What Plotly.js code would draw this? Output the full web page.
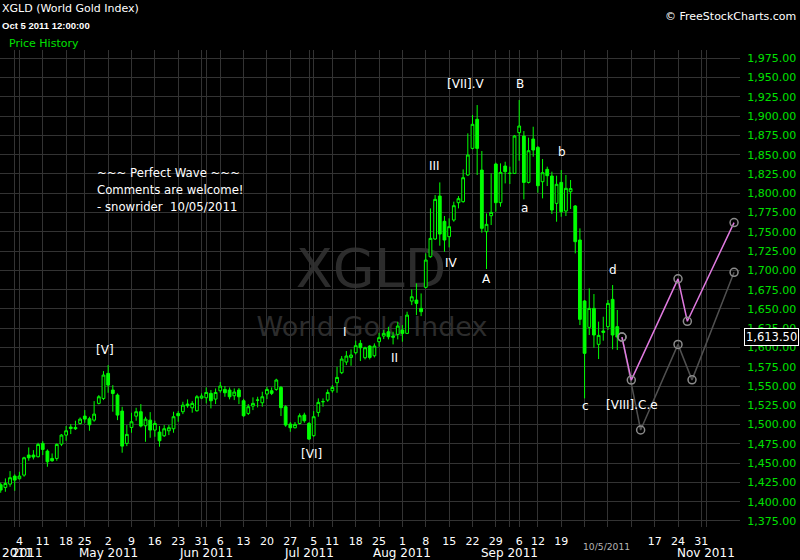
<!DOCTYPE html>
<html>
<head>
<meta charset="utf-8">
<script src="https://cdn.plot.ly/plotly-3.0.1.min.js"></script>
<style>
html,body{margin:0;padding:0;background:#000;}
#chart{width:800px;height:560px;}
</style>
</head>
<body>
<div id="chart"></div>
<script>
// XGLD (World Gold Index) daily bars, 29 Mar – 5 Oct 2011
const dates = [
  "2011-03-29","2011-03-30","2011-03-31","2011-04-01",
  "2011-04-04","2011-04-05","2011-04-06","2011-04-07","2011-04-08",
  "2011-04-11","2011-04-12","2011-04-13","2011-04-14","2011-04-15",
  "2011-04-18","2011-04-19","2011-04-20","2011-04-21",
  "2011-04-25","2011-04-26","2011-04-27","2011-04-28","2011-04-29",
  "2011-05-02","2011-05-03","2011-05-04","2011-05-05","2011-05-06",
  "2011-05-09","2011-05-10","2011-05-11","2011-05-12","2011-05-13",
  "2011-05-16","2011-05-17","2011-05-18","2011-05-19","2011-05-20",
  "2011-05-23","2011-05-24","2011-05-25","2011-05-26","2011-05-27",
  "2011-05-31","2011-06-01","2011-06-02","2011-06-03",
  "2011-06-06","2011-06-07","2011-06-08","2011-06-09","2011-06-10",
  "2011-06-13","2011-06-14","2011-06-15","2011-06-16","2011-06-17",
  "2011-06-20","2011-06-21","2011-06-22","2011-06-23","2011-06-24",
  "2011-06-27","2011-06-28","2011-06-29","2011-06-30","2011-07-01",
  "2011-07-05","2011-07-06","2011-07-07","2011-07-08",
  "2011-07-11","2011-07-12","2011-07-13","2011-07-14","2011-07-15",
  "2011-07-18","2011-07-19","2011-07-20","2011-07-21","2011-07-22",
  "2011-07-25","2011-07-26","2011-07-27","2011-07-28","2011-07-29",
  "2011-08-01","2011-08-02","2011-08-03","2011-08-04","2011-08-05",
  "2011-08-08","2011-08-09","2011-08-10","2011-08-11","2011-08-12",
  "2011-08-15","2011-08-16","2011-08-17","2011-08-18","2011-08-19",
  "2011-08-22","2011-08-23","2011-08-24","2011-08-25","2011-08-26",
  "2011-08-29","2011-08-30","2011-08-31","2011-09-01","2011-09-02",
  "2011-09-06","2011-09-07","2011-09-08","2011-09-09",
  "2011-09-12","2011-09-13","2011-09-14","2011-09-15","2011-09-16",
  "2011-09-19","2011-09-20","2011-09-21","2011-09-22","2011-09-23",
  "2011-09-26","2011-09-27","2011-09-28","2011-09-29","2011-09-30",
  "2011-10-03","2011-10-04","2011-10-05"
];
const open = [
  1422.0,1418.5,1422.8,1433.2,
  1429.8,1434.5,1460.5,1460.5,1458.3,
  1475.6,1465.6,1456.1,1456.1,1474.7,
  1486.4,1496.8,1496.3,1501.5,
  1511.0,1507.6,1505.8,1527.5,1533.9,
  1566.4,1544.8,1538.3,1517.5,1475.6,
  1496.3,1511.0,1516.7,1498.5,1505.8,
  1492.9,1490.3,1485.5,1492.0,1494.6,
  1514.5,1516.7,1526.6,1521.8,1518.0,
  1534.4,1534.8,1540.5,1533.1,
  1543.9,1545.6,1544.8,1537.4,1544.8,
  1530.9,1514.5,1524.0,1531.6,1528.3,
  1539.6,1543.9,1545.6,1548.2,1523.2,
  1500.7,1495.9,1501.5,1512.4,1501.5,
  1485.6,1515.8,1529.6,1531.8,
  1543.9,1554.3,1567.3,1581.1,1587.1,
  1593.2,1605.3,1586.7,1601.8,1589.3,
  1607.5,1614.8,1620.4,1613.1,1617.0,
  1622.6,1618.3,1660.2,1661.5,1650.7,
  1678.0,1717.7,1740.7,1796.4,1763.6,
  1743.7,1765.3,1787.8,1789.1,1823.7,
  1858.2,1895.9,1830.1,1750.2,1770.9,
  1837.9,1787.8,1835.3,1825.8,1825.8,
  1878.6,1874.2,1814.1,1870.3,
  1859.5,1815.0,1831.0,1822.4,1786.9,
  1814.1,1777.0,1802.0,1783.5,1739.4,
  1660.3,1626.1,1650.7,1604.1,1621.4,
  1627.0,1662.4,1627.0
];
const high = [
  1424.6,1430.2,1439.7,1435.4,
  1438.8,1458.3,1470.4,1466.9,1476.4,
  1478.6,1467.8,1462.6,1475.6,1487.7,
  1498.1,1500.7,1505.0,1509.3,
  1518.8,1510.2,1530.5,1538.3,1569.4,
  1577.2,1551.2,1540.4,1523.1,1499.4,
  1515.4,1521.8,1526.6,1510.2,1516.2,
  1505.0,1498.1,1499.4,1499.4,1516.7,
  1517.5,1529.6,1532.7,1530.5,1538.3,
  1540.5,1548.2,1544.8,1546.9,
  1555.2,1550.0,1548.2,1546.9,1547.4,
  1533.5,1526.6,1535.3,1536.1,1542.6,
  1549.1,1548.2,1559.5,1550.0,1525.3,
  1503.3,1503.3,1514.5,1515.4,1503.3,
  1517.5,1534.0,1534.0,1545.6,
  1551.3,1575.0,1588.9,1595.4,1597.5,
  1608.8,1609.6,1601.0,1603.1,1605.3,
  1619.1,1622.6,1626.9,1620.4,1633.4,
  1629.1,1646.4,1675.3,1683.1,1670.1,
  1722.1,1780.4,1797.7,1814.1,1770.5,
  1767.5,1789.1,1796.4,1831.0,1877.7,
  1901.5,1914.4,1854.8,1773.9,1825.8,
  1839.7,1838.8,1840.9,1834.5,1875.5,
  1920.9,1880.7,1872.1,1886.3,
  1861.3,1844.4,1834.5,1828.0,1822.8,
  1830.1,1823.7,1817.2,1784.7,1754.5,
  1661.6,1676.7,1669.3,1633.5,1639.9,
  1661.6,1681.0,1648.6
];
const low = [
  1411.6,1412.9,1419.4,1414.2,
  1428.9,1432.4,1453.1,1454.8,1457.4,
  1460.5,1445.3,1451.8,1453.1,1472.1,
  1479.0,1487.7,1493.0,1500.2,
  1502.4,1492.0,1503.7,1526.2,1531.8,
  1541.3,1516.7,1505.8,1463.5,1472.1,
  1489.4,1505.0,1496.3,1477.7,1482.9,
  1484.2,1471.3,1484.0,1486.4,1489.4,
  1503.7,1513.6,1521.8,1515.4,1516.7,
  1533.1,1527.5,1521.0,1526.6,
  1541.3,1536.1,1532.7,1531.8,1526.6,
  1510.0,1512.4,1518.8,1522.3,1523.2,
  1533.1,1538.3,1543.9,1511.1,1497.2,
  1490.7,1495.1,1500.3,1502.4,1479.9,
  1484.2,1510.2,1523.2,1529.6,
  1541.3,1541.3,1565.5,1577.2,1576.3,
  1591.0,1582.4,1584.5,1584.5,1587.1,
  1601.0,1610.9,1610.5,1604.0,1610.5,
  1607.5,1617.4,1655.0,1642.0,1640.7,
  1676.7,1716.4,1739.4,1732.0,1724.2,
  1729.8,1763.1,1780.4,1787.8,1822.4,
  1856.9,1823.7,1748.9,1701.7,1758.8,
  1776.1,1782.6,1812.8,1812.0,1825.0,
  1842.2,1792.1,1812.8,1847.4,
  1800.7,1793.4,1809.4,1773.1,1763.1,
  1769.6,1770.5,1779.6,1722.1,1629.1,
  1534.0,1616.2,1599.7,1585.0,1608.8,
  1622.7,1597.6,1596.7
];
const close = [
  1415.1,1423.7,1431.1,1428.0,
  1433.2,1457.0,1457.0,1457.9,1474.3,
  1467.8,1451.8,1453.1,1474.3,1486.4,
  1492.0,1495.0,1494.6,1507.1,
  1507.1,1499.8,1513.6,1536.1,1564.2,
  1551.2,1540.4,1512.3,1472.1,1487.3,
  1503.7,1516.7,1498.1,1507.1,1492.9,
  1501.5,1479.0,1494.6,1495.9,1510.2,
  1511.5,1525.3,1524.4,1527.5,1536.1,
  1537.0,1541.7,1530.9,1541.7,
  1550.0,1541.3,1536.1,1542.2,1536.1,
  1511.5,1523.2,1527.5,1531.8,1536.1,
  1545.6,1540.5,1557.8,1521.9,1499.4,
  1495.9,1500.3,1511.5,1505.0,1481.2,
  1510.2,1528.8,1529.8,1541.7,
  1548.2,1561.2,1585.0,1588.9,1590.2,
  1602.3,1599.7,1599.7,1587.1,1601.8,
  1612.7,1618.3,1613.9,1614.8,1627.8,
  1618.3,1642.0,1665.8,1657.2,1646.4,
  1713.4,1741.5,1792.1,1747.1,1739.4,
  1756.7,1783.9,1793.0,1820.2,1849.6,
  1889.4,1858.2,1754.5,1759.7,1775.2,
  1787.8,1827.1,1828.0,1825.9,1874.2,
  1887.2,1814.1,1855.2,1856.1,
  1809.8,1826.7,1822.8,1778.3,1811.6,
  1776.1,1806.4,1806.0,1737.2,1636.5,
  1592.4,1650.7,1616.2,1615.7,1619.6,
  1657.2,1616.2,1613.5
];

// Projected paths drawn out from the last bar
const pinkDates  = ["2011-10-06","2011-10-10","2011-10-24","2011-10-26","2011-11-09"];
const pinkValues = [1613.5, 1557.7, 1689.0, 1634.0, 1762.0];
const grayDates  = ["2011-10-06","2011-10-12","2011-10-24","2011-10-27","2011-11-09"];
const grayValues = [1613.5, 1493.0, 1604.0, 1558.0, 1697.5];

// Market holidays with no bar
const holidays = ["2011-04-22","2011-05-30","2011-07-04","2011-09-05"];

// First session of each week, with the day-of-month shown under it
const weekTicks = [
  "2011-04-04","2011-04-11","2011-04-18","2011-04-25",
  "2011-05-02","2011-05-09","2011-05-16","2011-05-23","2011-05-31",
  "2011-06-06","2011-06-13","2011-06-20","2011-06-27",
  "2011-07-05","2011-07-11","2011-07-18","2011-07-25",
  "2011-08-01","2011-08-08","2011-08-15","2011-08-22","2011-08-29",
  "2011-09-06","2011-09-12","2011-09-19","2011-09-26",
  "2011-10-03","2011-10-10","2011-10-17","2011-10-24","2011-10-31"
];
const weekLabels = [
  "4","11","18","25",
  "2","9","16","23","31",
  "6","13","20","27",
  "5","11","18","25",
  "1","8","15","22","29",
  "6","12","19","",
  "","","17","24","31"
];
// First session of each month (extra grid lines)
const monthStarts = ["2011-04-01","2011-06-01","2011-07-01","2011-09-01","2011-11-01"];
const monthLabelDates = ["2011-05-02","2011-06-01","2011-07-01","2011-08-01","2011-09-01","2011-11-01"];
const monthLabels = ["May 2011","Jun 2011","Jul 2011","Aug 2011","Sep 2011","Nov 2011"];

// Wave count labels
const waveText   = ["[V]","[VI]","I","II","III","IV","[VII].V","A","B","a","b","c","d","[VIII].C.e"];
const waveDates  = ["2011-04-29 19:00","2011-07-05 03:20","2011-07-14 04:50","2011-07-28 21:50",
                    "2011-08-10 06:15","2011-08-16 02:25","2011-08-19 02:25","2011-08-25 14:25",
                    "2011-09-06 16:50","2011-09-07 12:45","2011-09-19 16:50","2011-09-26 14:25",
                    "2011-10-04 14:25","2011-10-10 14:25"];
const waveLevels = [1596.3,1461.5,1619.8,1586.3,1835.0,1709.8,1941.3,1689.0,
                    1941.4,1781.1,1853.5,1524.0,1700.0,1525.3];

const commentLines = ["~~~ Perfect Wave ~~~", "Comments are welcome!", "- snowrider\u00a0 10/05/2011"];

// Bars are centred mid-session so the weekend breaks never cut through a candle
const MID = " 12:00";
const at = d => d.length > 10 ? d : d + MID;

const GREEN = "#00ff00";
const GRID = "#333333";
const FONT = "DejaVu Sans";

const traces = [
  {
    type: "candlestick",
    x: dates.map(at), open: open, high: high, low: low, close: close,
    increasing: {line: {color: GREEN, width: 1}, fillcolor: "#000000"},
    decreasing: {line: {color: GREEN, width: 1}, fillcolor: GREEN},
    whiskerwidth: 0,
    hoverinfo: "skip"
  },
  {
    type: "scatter", mode: "lines+markers",
    x: grayDates.map(at), y: grayValues,
    line: {color: "#505050", width: 1.5},
    marker: {symbol: "circle-open", size: 8, color: "#8c8c8c", line: {width: 1.5}},
    hoverinfo: "skip"
  },
  {
    type: "scatter", mode: "lines+markers",
    x: pinkDates.map(at), y: pinkValues,
    line: {color: "#e07ae0", width: 1.5},
    marker: {symbol: "circle-open", size: 8, color: "#8c8c8c", line: {width: 1.5}},
    hoverinfo: "skip"
  }
];

const PLOT_TOP = 50, PLOT_BOTTOM = 527, PLOT_H = 477, PLOT_W = 740;
const py = y => (PLOT_BOTTOM - y) / PLOT_H;   // page row -> paper fraction
const px = x => x / PLOT_W;                   // page column -> paper fraction

const annotations = [];
const txt = (o) => annotations.push(Object.assign({showarrow: false}, o));

// Header
txt({xref: "paper", yref: "paper", x: 0, y: py(9), xanchor: "left", yanchor: "middle",
     text: "XGLD (World Gold Index)", font: {family: FONT, size: 11, color: "#ffffff"}});
txt({xref: "paper", yref: "paper", x: 0, y: py(25.5), xanchor: "left", yanchor: "middle",
     text: "<b>Oct 5 2011 12:00:00</b>", font: {family: "Liberation Sans", size: 9.5, color: "#ffffff"}});
txt({xref: "paper", yref: "paper", x: px(7), y: py(43), xanchor: "left", yanchor: "middle",
     text: "Price History", font: {family: FONT, size: 11, color: "#00e000"}});
txt({xref: "paper", yref: "paper", x: px(798), y: py(16.7), xanchor: "right", yanchor: "middle",
     text: "\u00a9 FreeStockCharts.com", font: {family: FONT, size: 11, color: "#ffffff"}});

// Comment block
[172.7, 190, 206.7].forEach((row, k) => {
  txt({xref: "paper", yref: "paper", x: px(95), y: py(row), xanchor: "left", yanchor: "middle",
       text: commentLines[k], font: {family: FONT, size: 11.7, color: "#ffffff"}});
});

// Wave labels
waveText.forEach((t, k) => {
  txt({xref: "x", yref: "y", x: waveDates[k], y: waveLevels[k], xanchor: "center", yanchor: "middle",
       text: t, font: {family: FONT, size: 12, color: "#ffffff"}});
});

// Month row under the day numbers
monthLabels.forEach((t, k) => {
  txt({xref: "x", yref: "paper", x: at(monthLabelDates[k]), y: py(553), xanchor: "center", yanchor: "middle",
       text: t, font: {family: FONT, size: 12, color: "#ffffff"}});
});
txt({xref: "paper", yref: "paper", x: 0, y: py(553), xanchor: "left", yanchor: "middle",
     text: "2011", font: {family: FONT, size: 12, color: "#ffffff"}});
txt({xref: "paper", yref: "paper", x: px(10), y: py(553), xanchor: "left", yanchor: "middle",
     text: "2011", font: {family: FONT, size: 12, color: "#ffffff"}});

// Cursor date under the last bar
txt({xref: "paper", yref: "paper", x: px(606), y: py(546), xanchor: "center", yanchor: "middle",
     text: "10/5/2011", font: {family: FONT, size: 9.2, color: "#b4b4b4"}});

// Last price flag on the price scale
const last = close[close.length - 1];
txt({xref: "paper", yref: "y", x: px(744), y: last, xanchor: "left", yanchor: "middle",
     text: last.toLocaleString("en-US", {minimumFractionDigits: 2, maximumFractionDigits: 2}),
     font: {family: FONT, size: 11.5, color: "#ffffff"},
     bgcolor: "#000000", bordercolor: "#ffffff", borderwidth: 1, borderpad: 1});

// Background watermark, kept under the bars
const shapes = [
  {type: "rect", layer: "below", xref: "paper", yref: "paper",
   x0: px(321), x1: px(421), y0: py(290), y1: py(238),
   line: {width: 0}, fillcolor: "rgba(0,0,0,0)",
   label: {text: "XGLD", textposition: "middle center", font: {family: FONT, size: 54, color: "#2c2c2c"}}},
  {type: "rect", layer: "below", xref: "paper", yref: "paper",
   x0: px(272), x1: px(472), y0: py(338), y1: py(310),
   line: {width: 0}, fillcolor: "rgba(0,0,0,0)",
   label: {text: "World Gold Index", textposition: "middle center", font: {family: FONT, size: 27, color: "#2c2c2c"}}}
];

const layout = {
  width: 800, height: 560,
  paper_bgcolor: "#000000", plot_bgcolor: "#000000",
  margin: {l: 0, r: 60, t: PLOT_TOP, b: 560 - PLOT_BOTTOM, pad: 0},
  showlegend: false,
  boxgap: 0.15,
  font: {family: FONT, color: "#ffffff", size: 11},
  xaxis: {
    type: "date",
    range: ["2011-03-29 08:20", "2011-11-10 18:30"],
    rangebreaks: [{bounds: ["sat", "mon"]}, {values: holidays}],
    rangeslider: {visible: false},
    tickmode: "array", tickvals: weekTicks.map(at), ticktext: weekLabels,
    ticks: "outside", ticklen: 4, tickcolor: "rgba(0,0,0,0)",
    tickfont: {family: FONT, size: 11, color: "#ffffff"},
    showgrid: true, gridcolor: GRID, gridwidth: 1,
    minor: {tickmode: "array", tickvals: monthStarts.map(at), showgrid: true, gridcolor: GRID, ticks: ""},
    zeroline: false, showline: false, fixedrange: true
  },
  yaxis: {
    side: "right",
    range: [1367.2, 1985.8],
    tickmode: "linear", tick0: 1375, dtick: 25, tickformat: ",.2f",
    ticks: "outside", ticklen: 4, tickcolor: "rgba(0,0,0,0)",
    tickfont: {family: FONT, size: 11, color: "#00e000"},
    showgrid: true, gridcolor: GRID, gridwidth: 1,
    zeroline: false, showline: false, fixedrange: true
  },
  annotations: annotations,
  shapes: shapes
};

Plotly.newPlot("chart", traces, layout, {staticPlot: true, displayModeBar: false});
</script>
</body>
</html>
